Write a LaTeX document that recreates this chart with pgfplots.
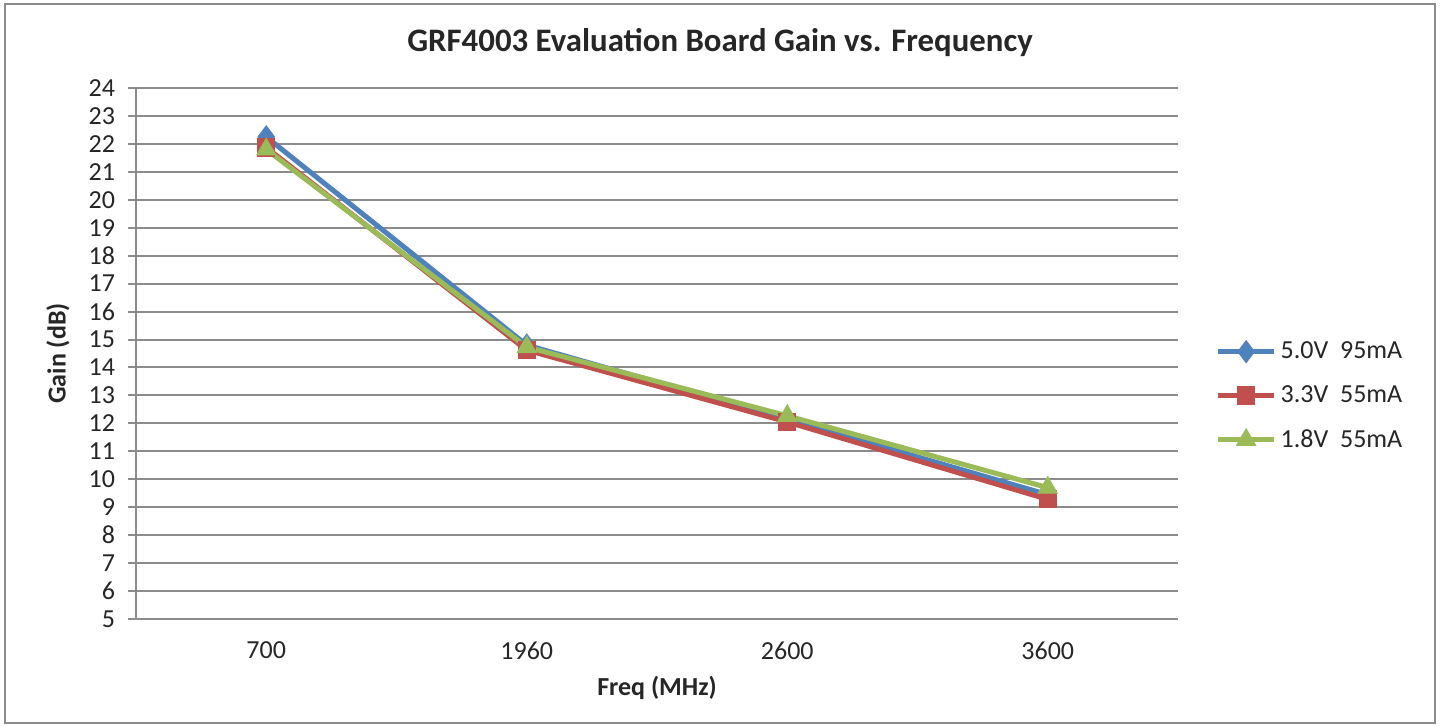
\documentclass[border=0pt]{standalone}
\usepackage{pgfplots}
\pgfplotsset{compat=1.18}
\usepackage{fontspec}
\setmainfont{Carlito}
\definecolor{sblue}{HTML}{4F81BD}
\definecolor{sred}{HTML}{C0504D}
\definecolor{sgreen}{HTML}{9BBB59}
\definecolor{gridg}{HTML}{8C8C8C}
\begin{document}
\begin{tikzpicture}
\path[use as bounding box] (0,0) rectangle (720pt,363.5pt);
\draw[gridg, line width=1pt] (2.5pt,2pt) rectangle (717.5pt,361.5pt);
\node[font=\bfseries\fontsize{16.4}{19}\selectfont, text=black!85] at (360pt,342pt) {GRF4003 Evaluation Board Gain vs. Frequency};
\begin{axis}[
  at={(68pt,54pt)}, anchor=south west,
  scale only axis, width=521pt, height=265.5pt,
  xmin=-0.5, xmax=3.5, ymin=5, ymax=24,
  xtick={0,1,2,3}, xticklabels={700,1960,2600,3600},
  ytick={5,6,...,24},
  major x tick style={draw=none},
  ytick style={gridg, line width=1pt},
  major tick length=4pt,
  tick align=outside,
  ymajorgrids, grid style={gridg, line width=1pt},
  axis x line*=bottom, axis y line*=left,
  axis line style={gridg, line width=1pt, -},
  tick label style={font=\fontsize{13}{15}\selectfont, text=black!85},
  /pgf/number format/assume math mode=true,
  yticklabel style={xshift=-3pt},
  xticklabel style={yshift=-4pt},
  xlabel={Freq (MHz)}, ylabel={Gain (dB)},
  label style={font=\bfseries\fontsize{13}{15}\selectfont, text=black!85},
  xlabel style={at={(axis description cs:0.5,-0.13)}, anchor=center},
  ylabel style={at={(axis description cs:-0.075,0.5)}, anchor=center, rotate=0},
  legend style={at={(1.03,0.42)}, anchor=west, draw=none, fill=none,
    font=\fontsize{13}{15}\selectfont, text=black!85, row sep=8pt},
  legend cell align=left,
  legend image code/.code={\draw[mark repeat=2,mark phase=2] plot coordinates {(0pt,0pt) (14pt,0pt) (28pt,0pt)};},
  legend image post style={line width=2.5pt},
  every axis plot/.append style={line width=2.5pt},
]
\addplot[sblue, mark=diamond*, mark size=5.5pt, mark options={line width=0.5pt}] coordinates {(0,22.25) (1,14.8) (2,12.15) (3,9.45)};
\addlegendentry{5.0V\ \ 95mA}
\addplot[sred, mark=square*, mark size=4.3pt, mark options={line width=0.5pt}] coordinates {(0,21.87) (1,14.62) (2,12.05) (3,9.28)};
\addlegendentry{3.3V\ \ 55mA}
\addplot[sgreen, mark=triangle*, mark size=5.5pt, mark options={line width=0.5pt}] coordinates {(0,21.8) (1,14.73) (2,12.27) (3,9.7)};
\addlegendentry{1.8V\ \ 55mA}
\end{axis}
\end{tikzpicture}
\end{document}
